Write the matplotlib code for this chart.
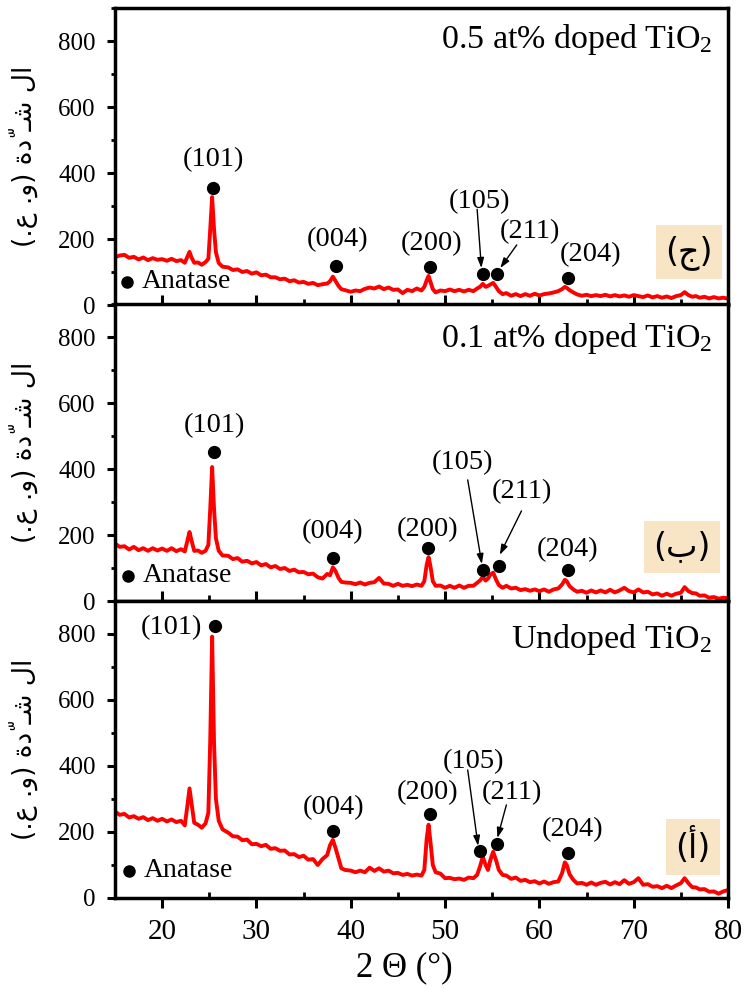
import matplotlib
matplotlib.use('Agg')
import matplotlib.pyplot as plt
from matplotlib.ticker import MultipleLocator

plt.rcParams['font.family'] = ['Liberation Serif', 'DejaVu Sans']
plt.rcParams['mathtext.fontset'] = 'custom'
plt.rcParams['mathtext.rm'] = 'Liberation Serif'
plt.rcParams['mathtext.it'] = 'Liberation Serif:italic'
plt.rcParams['mathtext.bf'] = 'Liberation Serif:bold'

# ---------------- data ----------------
two_theta = [
    15.0, 15.5, 16.0, 16.5, 17.0, 17.5, 18.0, 18.5, 19.0, 19.5,
    20.0, 20.5, 21.0, 21.5, 22.0, 22.4, 22.7, 22.9, 23.1, 23.4,
    23.8, 24.2, 24.6, 24.9, 25.1, 25.3, 25.5, 25.7, 26.0, 26.4,
    27.0, 27.5, 28.0, 28.5, 29.0, 29.5, 30.0, 30.5, 31.0, 31.5,
    32.0, 32.5, 33.0, 33.5, 34.0, 34.5, 35.0, 35.5, 36.0, 36.5,
    37.0, 37.5, 37.8, 38.1, 38.4, 38.7, 39.0, 39.4, 40.0, 40.5,
    41.0, 41.5, 42.0, 42.5, 43.0, 43.5, 44.0, 44.5, 45.0, 45.5,
    46.0, 46.5, 47.0, 47.5, 47.8, 48.05, 48.25, 48.45, 48.7, 49.0,
    49.5, 50.0, 50.5, 51.0, 51.5, 52.0, 52.5, 53.0, 53.4, 53.7,
    54.0, 54.3, 54.55, 54.8, 55.1, 55.4, 55.7, 56.1, 56.5, 57.0,
    57.5, 58.0, 58.5, 59.0, 59.5, 60.0, 60.5, 61.0, 61.5, 62.0,
    62.4, 62.7, 62.9, 63.2, 63.6, 64.0, 64.5, 65.0, 65.5, 66.0,
    66.5, 67.0, 67.5, 68.0, 68.5, 69.0, 69.5, 70.0, 70.5, 71.0,
    71.5, 72.0, 72.5, 73.0, 73.5, 74.0, 74.5, 75.0, 75.4, 75.8,
    76.2, 76.6, 77.0, 77.5, 78.0, 78.5, 79.0, 79.5, 80.0,
]

intensity_05 = [
    145, 150, 152, 143, 146, 138, 144, 136, 142, 137,
    139, 134, 140, 133, 136, 128, 148, 161, 145, 128,
    129, 122, 130, 140, 230, 327, 230, 160, 127, 116,
    114, 106, 108, 100, 103, 95, 99, 90, 92, 84,
    84, 78, 80, 72, 75, 68, 70, 64, 67, 60,
    63, 65, 72, 86, 72, 58, 48, 45, 40, 44,
    42, 49, 53, 50, 56, 48, 53, 46, 47, 36,
    46, 42, 50, 44, 55, 75, 88, 70, 48, 38,
    44, 42, 47, 42, 46, 41, 46, 42, 50, 55,
    64, 55, 58, 62, 67, 55, 42, 33, 36, 28,
    33, 27, 33, 28, 34, 29, 33, 35, 38, 42,
    48, 55, 52, 45, 38, 32, 28, 31, 27, 30,
    27, 31, 26, 30, 26, 29, 25, 30, 27, 24,
    29, 23, 27, 22, 26, 21, 27, 30, 39, 30,
    25, 27, 22, 25, 20, 24, 20, 22, 19,
]

intensity_01 = [
    174, 164, 166, 156, 164, 154, 160, 152, 160, 153,
    159, 152, 160, 151, 157, 150, 185, 209, 185, 152,
    153, 146, 152, 170, 280, 406, 280, 190, 152, 138,
    137, 127, 130, 119, 122, 114, 118, 108, 112, 102,
    106, 97, 100, 91, 95, 87, 88, 81, 83, 72,
    68, 82, 78, 102, 90, 70, 58, 56, 55, 51,
    56, 50, 55, 57, 70, 53, 52, 46, 52, 46,
    49, 45, 50, 46, 60, 110, 133, 105, 60, 46,
    47, 40, 46, 40, 47, 40, 46, 46, 55, 62,
    73, 62, 68, 80, 86, 65, 48, 40, 46, 38,
    40, 33, 36, 31, 35, 30, 35, 28, 35, 38,
    50, 64, 60, 45, 35, 28, 31, 25, 32, 26,
    32, 26, 34, 26, 32, 40, 30, 26, 35, 26,
    28, 20, 23, 16, 22, 16, 22, 25, 42, 30,
    24, 23, 16, 17, 10, 12, 7, 10, 8,
]

intensity_undoped = [
    262, 252, 255, 244, 248, 240, 245, 236, 242, 234,
    240, 232, 238, 230, 234, 220, 285, 332, 290, 228,
    222, 213, 226, 258, 480, 792, 470, 300, 234, 208,
    198, 187, 186, 175, 177, 163, 164, 157, 161, 149,
    151, 143, 144, 132, 133, 124, 128, 116, 118, 100,
    118, 130, 160, 176, 150, 120, 90, 85, 83, 78,
    83, 78, 92, 82, 90, 80, 83, 75, 76, 70,
    73, 68, 71, 68, 85, 180, 222, 170, 100, 78,
    74, 60, 61, 57, 59, 55, 62, 60, 70, 95,
    125, 100, 85, 115, 140, 115, 85, 70, 68, 58,
    62, 52, 55, 48, 51, 44, 50, 43, 48, 50,
    75, 108, 100, 72, 55, 44, 46, 40, 47, 40,
    46, 49, 41, 48, 42, 54, 43, 48, 60, 40,
    42, 34, 36, 30, 37, 30, 38, 45, 60, 45,
    33, 32, 26, 27, 19, 20, 13, 20, 24,
]

sample_names = ['0.5 at% doped TiO$_2$', '0.1 at% doped TiO$_2$', 'Undoped TiO$_2$']
panel_letters = ['(ج)', '(ب)', '(أ)']
hkl_labels = ['(101)', '(004)', '(200)', '(105)', '(211)', '(204)']

# peak marker (dot) positions for each panel: 2theta and intensity
dot_x_05 = [25.4, 38.4, 48.4, 54.0, 55.5, 63.0]
dot_y_05 = [355, 118, 116, 93, 94, 83]
dot_x_01 = [25.5, 38.15, 48.2, 54.0, 55.7, 63.0]
dot_y_01 = [453, 129, 161, 94, 106, 94]
dot_x_undoped = [25.6, 38.1, 48.4, 53.7, 55.5, 63.0]
dot_y_undoped = [824, 203, 255, 142, 164, 136]

# ---------------- layout ----------------
lab_xy = [
    [(25.4, 440), (38.6, 197), (48.6, 187), (53.7, 313), (59.0, 222), (65.4, 152)],
    [(25.5, 533), (38.1, 210), (48.1, 215), (51.9, 418), (58.2, 330), (63.0, 155)],
    [(21.0, 818), (38.2, 273), (48.1, 318), (53.0, 412), (57.1, 318), (63.5, 206)],
]
arrows = [
    [((53.4, 290), (53.85, 112)), ((57.6, 182), (55.85, 112))],
    [((52.4, 367), (53.9, 112)), ((58.1, 273), (55.8, 140))],
    [((52.4, 388), (53.5, 158)), ((56.5, 282), (55.55, 182))],
]
anatase_xy = [(16.3, 70), (16.4, 77), (16.5, 82)]
title_y = [0.865, 0.855, 0.842]
box_xy = [(0.936, 0.178), (0.925, 0.182), (0.943, 0.172)]

ylabel_ar = '(.\ufec9 .\ufeed) \ufe93\ufea9\u0651 \u0640\ufeb7 \ufedd\ufe8d'

series = [intensity_05, intensity_01, intensity_undoped]
dots = [(dot_x_05, dot_y_05), (dot_x_01, dot_y_01), (dot_x_undoped, dot_y_undoped)]

fig = plt.figure(figsize=(7.44, 9.9), dpi=100)
H = 0.3
L, W = 115 / 744, 613 / 744
bottoms = [1 - 305 / 990, 1 - 601 / 990, 1 - 898 / 990]

for i in range(3):
    ax = fig.add_axes([L, bottoms[i], W, H])
    ax.plot(two_theta, series[i], color='#ff0000', lw=2.8, solid_joinstyle='round')
    dx, dy = dots[i]
    ax.plot(dx, dy, 'o', color='black', ms=8.5, ls='none')
    for j, lab in enumerate(hkl_labels):
        ax.text(lab_xy[i][j][0], lab_xy[i][j][1], lab, ha='center', va='center', fontsize=20.5)
    for tail, tip in arrows[i]:
        ax.annotate('', xy=tip, xytext=tail,
                    arrowprops=dict(arrowstyle='-|>,head_length=0.6,head_width=0.2',
                                    color='black', lw=1.0, shrinkA=0, shrinkB=0))
    axx, axy = anatase_xy[i]
    ax.plot([axx], [axy], 'o', color='black', ms=8)
    ax.text(axx + 1.5, axy, 'Anatase', ha='left', va='center', fontsize=20)
    ax.text(0.974, title_y[i], sample_names[i], transform=ax.transAxes,
            ha='right', va='baseline', fontsize=24.5)
    ax.text(box_xy[i][0], box_xy[i][1], panel_letters[i], transform=ax.transAxes,
            ha='center', va='center', fontsize=24, family=['DejaVu Sans'],
            bbox=dict(boxstyle='square,pad=0.28', facecolor='#f8e5c6', edgecolor='none'))

    ax.set_xlim(15, 80)
    ax.set_ylim(0, 900)
    ax.xaxis.set_major_locator(MultipleLocator(10))
    ax.xaxis.set_minor_locator(MultipleLocator(5))
    ax.yaxis.set_major_locator(MultipleLocator(200))
    ax.yaxis.set_minor_locator(MultipleLocator(100))
    for s in ax.spines.values():
        s.set_linewidth(2.5)
    ax.tick_params(axis='y', which='major', direction='out', length=6, width=2.2,
                   labelsize=18, pad=8)
    ax.tick_params(axis='y', which='minor', direction='out', length=3, width=2.0)
    if i < 2:
        ax.tick_params(axis='x', which='major', direction='in', length=7, width=2.2,
                       labelbottom=False)
        ax.tick_params(axis='x', which='minor', direction='in', length=4, width=2.0)
    else:
        ax.tick_params(axis='x', which='major', direction='out', length=7, width=2.2,
                       labelsize=21, pad=8)
        ax.tick_params(axis='x', which='minor', direction='in', length=4, width=2.0)
    ax.set_ylabel(ylabel_ar, family=['DejaVu Sans'], fontsize=19)
    ax.yaxis.set_label_coords(-0.125, 0.5)

fig.text(404 / 744, 1 - 968 / 990, '2 Θ (°)', ha='center', va='center', fontsize=25)

fig.savefig('out.png', dpi=100)
